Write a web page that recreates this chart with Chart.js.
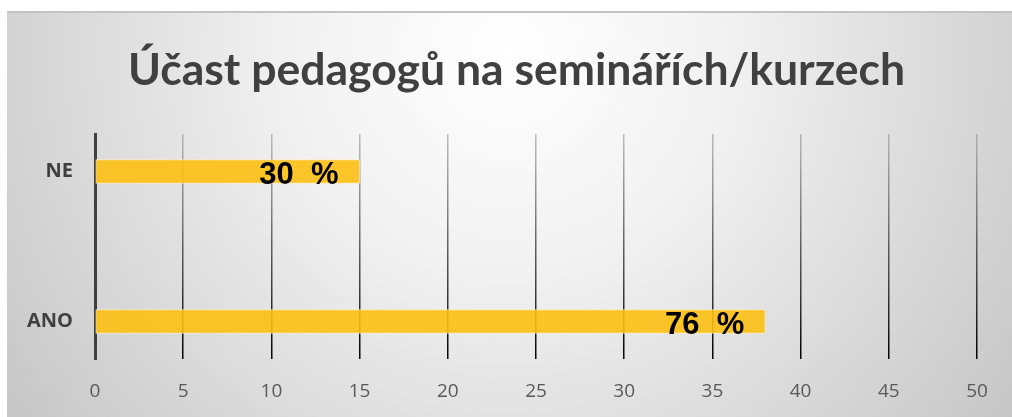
<!DOCTYPE html>
<html lang="cs">
<head>
<meta charset="utf-8">
<script src="https://cdn.jsdelivr.net/npm/chart.js@4/dist/chart.umd.min.js"></script>
<style>
    html, body { margin: 0; padding: 0; background: #ffffff; }
    #wrap { position: absolute; left: 7px; top: 11px; width: 1005px; height: 406px; }
</style>
</head>
<body>
<div id="wrap"><canvas id="chart"></canvas></div>
<script>
    'use strict';

    // data
    const categories = ['NE', 'ANO'];
    const values = [15, 38];
    const pctLabels = ['30  %', '76  %'];
    const xTicks = [0, 5, 10, 15, 20, 25, 30, 35, 40, 45, 50];

    const titleText = 'Účast pedagogů na seminářích/kurzech';

    // radial grey background + top edge line
    const backgroundPlugin = {
        id: 'bgGradient',
        beforeDraw(chart) {
            const { ctx, width, height } = chart;
            ctx.save();
            const g = ctx.createRadialGradient(width * 0.5, 40, 0, width * 0.5, 40, 640);
            g.addColorStop(0, '#ffffff');
            g.addColorStop(0.35, '#f1f1f1');
            g.addColorStop(1, '#c4c4c4');
            ctx.fillStyle = g;
            ctx.fillRect(0, 0, width, height);
            ctx.strokeStyle = '#c3c3c3';
            ctx.lineWidth = 2;
            ctx.beginPath();
            ctx.moveTo(0, 1);
            ctx.lineTo(width, 1);
            ctx.stroke();
            ctx.restore();
        }
    };

    // title is centred on the whole box (box runs a bit past the right edge)
    const titlePlugin = {
        id: 'boxTitle',
        afterDraw(chart) {
            const { ctx, width } = chart;
            ctx.save();
            ctx.font = 'bold 44.5px Lato, "Open Sans", sans-serif';
            ctx.fillStyle = '#404040';
            ctx.textAlign = 'center';
            ctx.textBaseline = 'alphabetic';
            ctx.fillText(titleText, width / 2 + 7, 74);
            ctx.restore();
        }
    };

    // percentage labels inside the bar ends
    const barLabelPlugin = {
        id: 'barLabels',
        afterDatasetsDraw(chart) {
            const { ctx } = chart;
            const meta = chart.getDatasetMeta(0);
            ctx.save();
            ctx.font = 'bold 31px "Liberation Sans", Arial, sans-serif';
            ctx.fillStyle = '#000000';
            ctx.textAlign = 'right';
            ctx.textBaseline = 'alphabetic';
            meta.data.forEach((bar, i) => {
                ctx.fillText(pctLabels[i], bar.x - 21, bar.y + 12.5);
            });
            ctx.restore();
        }
    };

    function gridGradient(context) {
        const chart = context.chart;
        const area = chart.chartArea;
        if (!area) return '#555555';
        const g = chart.ctx.createLinearGradient(0, area.top, 0, area.bottom);
        g.addColorStop(0, 'rgba(140,140,140,0.55)');
        g.addColorStop(0.5, 'rgba(60,60,60,0.8)');
        g.addColorStop(1, 'rgba(0,0,0,1)');
        return g;
    }

    new Chart(document.getElementById('chart'), {
        type: 'bar',
        data: {
            datasets: [{
                data: values.map((v, i) => ({ x: v, y: i })),
                backgroundColor: 'rgba(252,192,20,0.9)',
                borderColor: 'rgba(255,236,180,0.85)',
                borderWidth: 1,
                borderSkipped: false,
                barThickness: 24
            }]
        },
        options: {
            indexAxis: 'y',
            responsive: true,
            maintainAspectRatio: false,
            animation: false,
            layout: { padding: { left: 0, right: 35, top: 123, bottom: 0 } },
            plugins: {
                legend: { display: false },
                tooltip: { enabled: false },
                title: { display: false }
            },
            scales: {
                x: {
                    type: 'linear',
                    min: 0,
                    max: 50,
                    afterBuildTicks(scale) {
                        scale.ticks = xTicks.map(v => ({ value: v }));
                    },
                    afterFit(scale) {
                        scale.height = 58;
                    },
                    grid: {
                        color: gridGradient,
                        lineWidth: 1.5,
                        drawTicks: false
                    },
                    border: { display: false },
                    ticks: {
                        color: '#595959',
                        padding: 21,
                        font: { family: '"Open Sans", sans-serif', size: 19 }
                    }
                },
                y: {
                    type: 'linear',
                    reverse: true,
                    offset: false,
                    min: -0.25,
                    max: 1.25,
                    afterBuildTicks(scale) {
                        scale.ticks = categories.map((c, i) => ({ value: i }));
                    },
                    afterFit(scale) {
                        scale.width = 88;
                    },
                    grid: { display: false, drawTicks: false, offset: false },
                    border: { display: true, color: '#404040', width: 3 },
                    ticks: {
                        color: '#404040',
                        padding: 22,
                        font: { family: '"Open Sans", sans-serif', size: 20, weight: 'bold' },
                        callback: (value) => categories[value]
                    }
                }
            }
        },
        plugins: [backgroundPlugin, barLabelPlugin, titlePlugin]
    });
</script>
</body>
</html>
